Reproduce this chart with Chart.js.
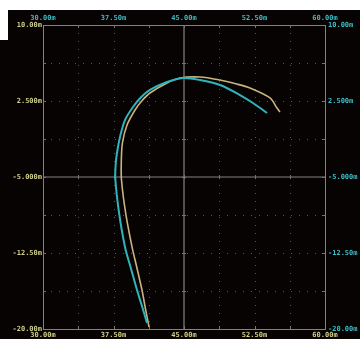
<!DOCTYPE html>
<html>
<head>
<meta charset="utf-8">
<script src="https://cdn.jsdelivr.net/npm/chart.js@4.4.1/dist/chart.umd.min.js"></script>
<style>
  html, body { margin: 0; padding: 0; background: #070303; width: 360px; height: 339px; overflow: hidden; }
  #topWhite { position: absolute; left: 0; top: 0; width: 360px; height: 10px; background: #fff; }
  #leftWhite { position: absolute; left: 0; top: 0; width: 8px; height: 40px; background: #fff; }
  #wrap { position: absolute; left: 8px; top: 10px; width: 352px; height: 329px; }
</style>
</head>
<body>
<div id="topWhite"></div>
<div id="leftWhite"></div>
<div id="wrap"><canvas id="xyChart"></canvas></div>
<script>
// axis ranges and tick labels
const xMin = 30, xMax = 60;
const yMin = -20, yMax = 10;
const gridStep = 3.75;
const xTickLabels = ['30.00m', '37.50m', '45.00m', '52.50m', '60.00m'];
const yTickLabels = ['-20.00m', '-12.50m', '-5.000m', '2.500m', '10.00m'];

// trace 1 (cyan)
const cyanX = [41.06, 40.55, 40.0, 39.35, 38.72, 38.1, 37.7, 37.72, 37.87, 38.19, 38.72, 39.57, 40.4, 41.38, 43.19, 44.89, 46.7, 48.83, 50.96, 52.34, 53.83];
const cyanY = [-19.4, -17.8, -16.15, -14.0, -11.9, -8.6, -5.3, -3.9, -2.63, -1.05, 0.62, 1.91, 2.85, 3.59, 4.37, 4.77, 4.57, 4.08, 3.09, 2.3, 1.32];

// trace 2 (yellow)
const yellowX = [41.28, 40.9, 40.53, 40.0, 39.47, 38.8, 38.35, 38.33, 38.45, 38.94, 39.79, 40.5, 41.38, 43.19, 44.57, 46.7, 48.83, 50.5, 52.02, 54.15, 54.89, 55.21];
const yellowY = [-19.8, -18.0, -16.15, -14.0, -11.9, -8.6, -5.3, -3.5, -1.64, 0.13, 1.61, 2.5, 3.29, 4.28, 4.77, 4.87, 4.57, 4.2, 3.78, 2.8, 1.81, 1.41];

const cyan = '#3cbcc4';
const yellow = '#cfcf86';
const trace1 = '#2fb4bc';
const trace2 = '#c9b47e';

function pts(xs, ys) {
  return xs.map((x, i) => ({ x: x, y: ys[i] }));
}

function xLabel(v) {
  const i = Math.round((v - xMin) / 7.5);
  return Math.abs(xMin + i * 7.5 - v) < 1e-6 ? xTickLabels[i] : '';
}
function yLabel(v) {
  const i = Math.round((v - yMin) / 7.5);
  return Math.abs(yMin + i * 7.5 - v) < 1e-6 ? yTickLabels[i] : '';
}

// oscilloscope style grid: dotted lines, solid centre cross, border with small ticks
const scopeGrid = {
  id: 'scopeGrid',
  beforeDatasetsDraw(chart) {
    const ctx = chart.ctx;
    const a = chart.chartArea;
    const xs = chart.scales.x, ys = chart.scales.y;
    ctx.save();
    ctx.lineWidth = 1;
    // dotted lines
    ctx.strokeStyle = '#5a5656';
    ctx.setLineDash([1, 7]);
    for (let v = xMin + gridStep; v < xMax; v += gridStep) {
      if (Math.abs(v - 45) < 1e-6) continue;
      const px = Math.round(xs.getPixelForValue(v)) + 0.5;
      ctx.beginPath(); ctx.moveTo(px, a.top); ctx.lineTo(px, a.bottom); ctx.stroke();
    }
    for (let v = yMin + gridStep; v < yMax; v += gridStep) {
      if (Math.abs(v + 5) < 1e-6) continue;
      const py = Math.round(ys.getPixelForValue(v)) + 0.5;
      ctx.beginPath(); ctx.moveTo(a.left, py); ctx.lineTo(a.right, py); ctx.stroke();
    }
    ctx.setLineDash([]);
    // centre cross
    ctx.strokeStyle = '#858181';
    ctx.lineWidth = 1.2;
    const cx = xs.getPixelForValue(45), cy = ys.getPixelForValue(-5);
    ctx.beginPath(); ctx.moveTo(cx, a.top); ctx.lineTo(cx, a.bottom); ctx.stroke();
    ctx.beginPath(); ctx.moveTo(a.left, cy); ctx.lineTo(a.right, cy); ctx.stroke();
    // border
    ctx.lineWidth = 1;
    ctx.strokeRect(Math.round(a.left) + 0.5, Math.round(a.top) + 0.5, Math.round(a.right - a.left), Math.round(a.bottom - a.top));
    // small ticks on border and centre lines
    ctx.strokeStyle = '#777373';
    for (let v = xMin + gridStep; v < xMax; v += gridStep) {
      const px = Math.round(xs.getPixelForValue(v)) + 0.5;
      ctx.beginPath();
      ctx.moveTo(px, a.top); ctx.lineTo(px, a.top + 3);
      ctx.moveTo(px, a.bottom); ctx.lineTo(px, a.bottom - 3);
      ctx.moveTo(px, cy - 2); ctx.lineTo(px, cy + 2);
      ctx.stroke();
    }
    for (let v = yMin + gridStep; v < yMax; v += gridStep) {
      const py = Math.round(ys.getPixelForValue(v)) + 0.5;
      ctx.beginPath();
      ctx.moveTo(a.left, py); ctx.lineTo(a.left + 3, py);
      ctx.moveTo(a.right, py); ctx.lineTo(a.right - 3, py);
      ctx.moveTo(cx - 2, py); ctx.lineTo(cx + 2, py);
      ctx.stroke();
    }
    ctx.restore();
  }
};

const tickFont = { family: 'DejaVu Sans Mono', size: 7, weight: 'bold' };

function hiddenGrid() {
  return { display: false, drawTicks: false };
}

new Chart(document.getElementById('xyChart'), {
  type: 'scatter',
  data: {
    datasets: [
      {
        label: 'CH1',
        data: pts(cyanX, cyanY),
        showLine: true,
        borderColor: trace1,
        borderWidth: 2,
        pointRadius: 0,
        tension: 0.3
      },
      {
        label: 'CH2',
        data: pts(yellowX, yellowY),
        showLine: true,
        borderColor: trace2,
        borderWidth: 1.6,
        pointRadius: 0,
        tension: 0.3
      }
    ]
  },
  options: {
    responsive: true,
    maintainAspectRatio: false,
    animation: false,
    layout: { padding: 0 },
    plugins: {
      legend: { display: false },
      tooltip: { enabled: false }
    },
    scales: {
      x: {
        type: 'linear', position: 'bottom', min: xMin, max: xMax,
        grid: hiddenGrid(), border: { display: false },
        ticks: { stepSize: gridStep, autoSkip: false, maxRotation: 0, padding: 2, color: yellow, font: tickFont, callback: xLabel },
        afterFit: (s) => { s.height = 10; }
      },
      x2: {
        type: 'linear', position: 'top', min: xMin, max: xMax,
        grid: hiddenGrid(), border: { display: false },
        ticks: { stepSize: gridStep, autoSkip: false, maxRotation: 0, padding: 3, color: cyan, font: tickFont, callback: xLabel },
        afterFit: (s) => { s.height = 15; }
      },
      y: {
        type: 'linear', position: 'left', min: yMin, max: yMax,
        grid: hiddenGrid(), border: { display: false },
        ticks: { stepSize: gridStep, autoSkip: false, padding: 1, color: yellow, font: tickFont, callback: yLabel },
        afterFit: (s) => { s.width = 35; }
      },
      y2: {
        type: 'linear', position: 'right', min: yMin, max: yMax,
        grid: hiddenGrid(), border: { display: false },
        ticks: { stepSize: gridStep, autoSkip: false, padding: 3, color: cyan, font: tickFont, callback: yLabel },
        afterFit: (s) => { s.width = 35; }
      }
    }
  },
  plugins: [scopeGrid]
});
</script>
</body>
</html>
